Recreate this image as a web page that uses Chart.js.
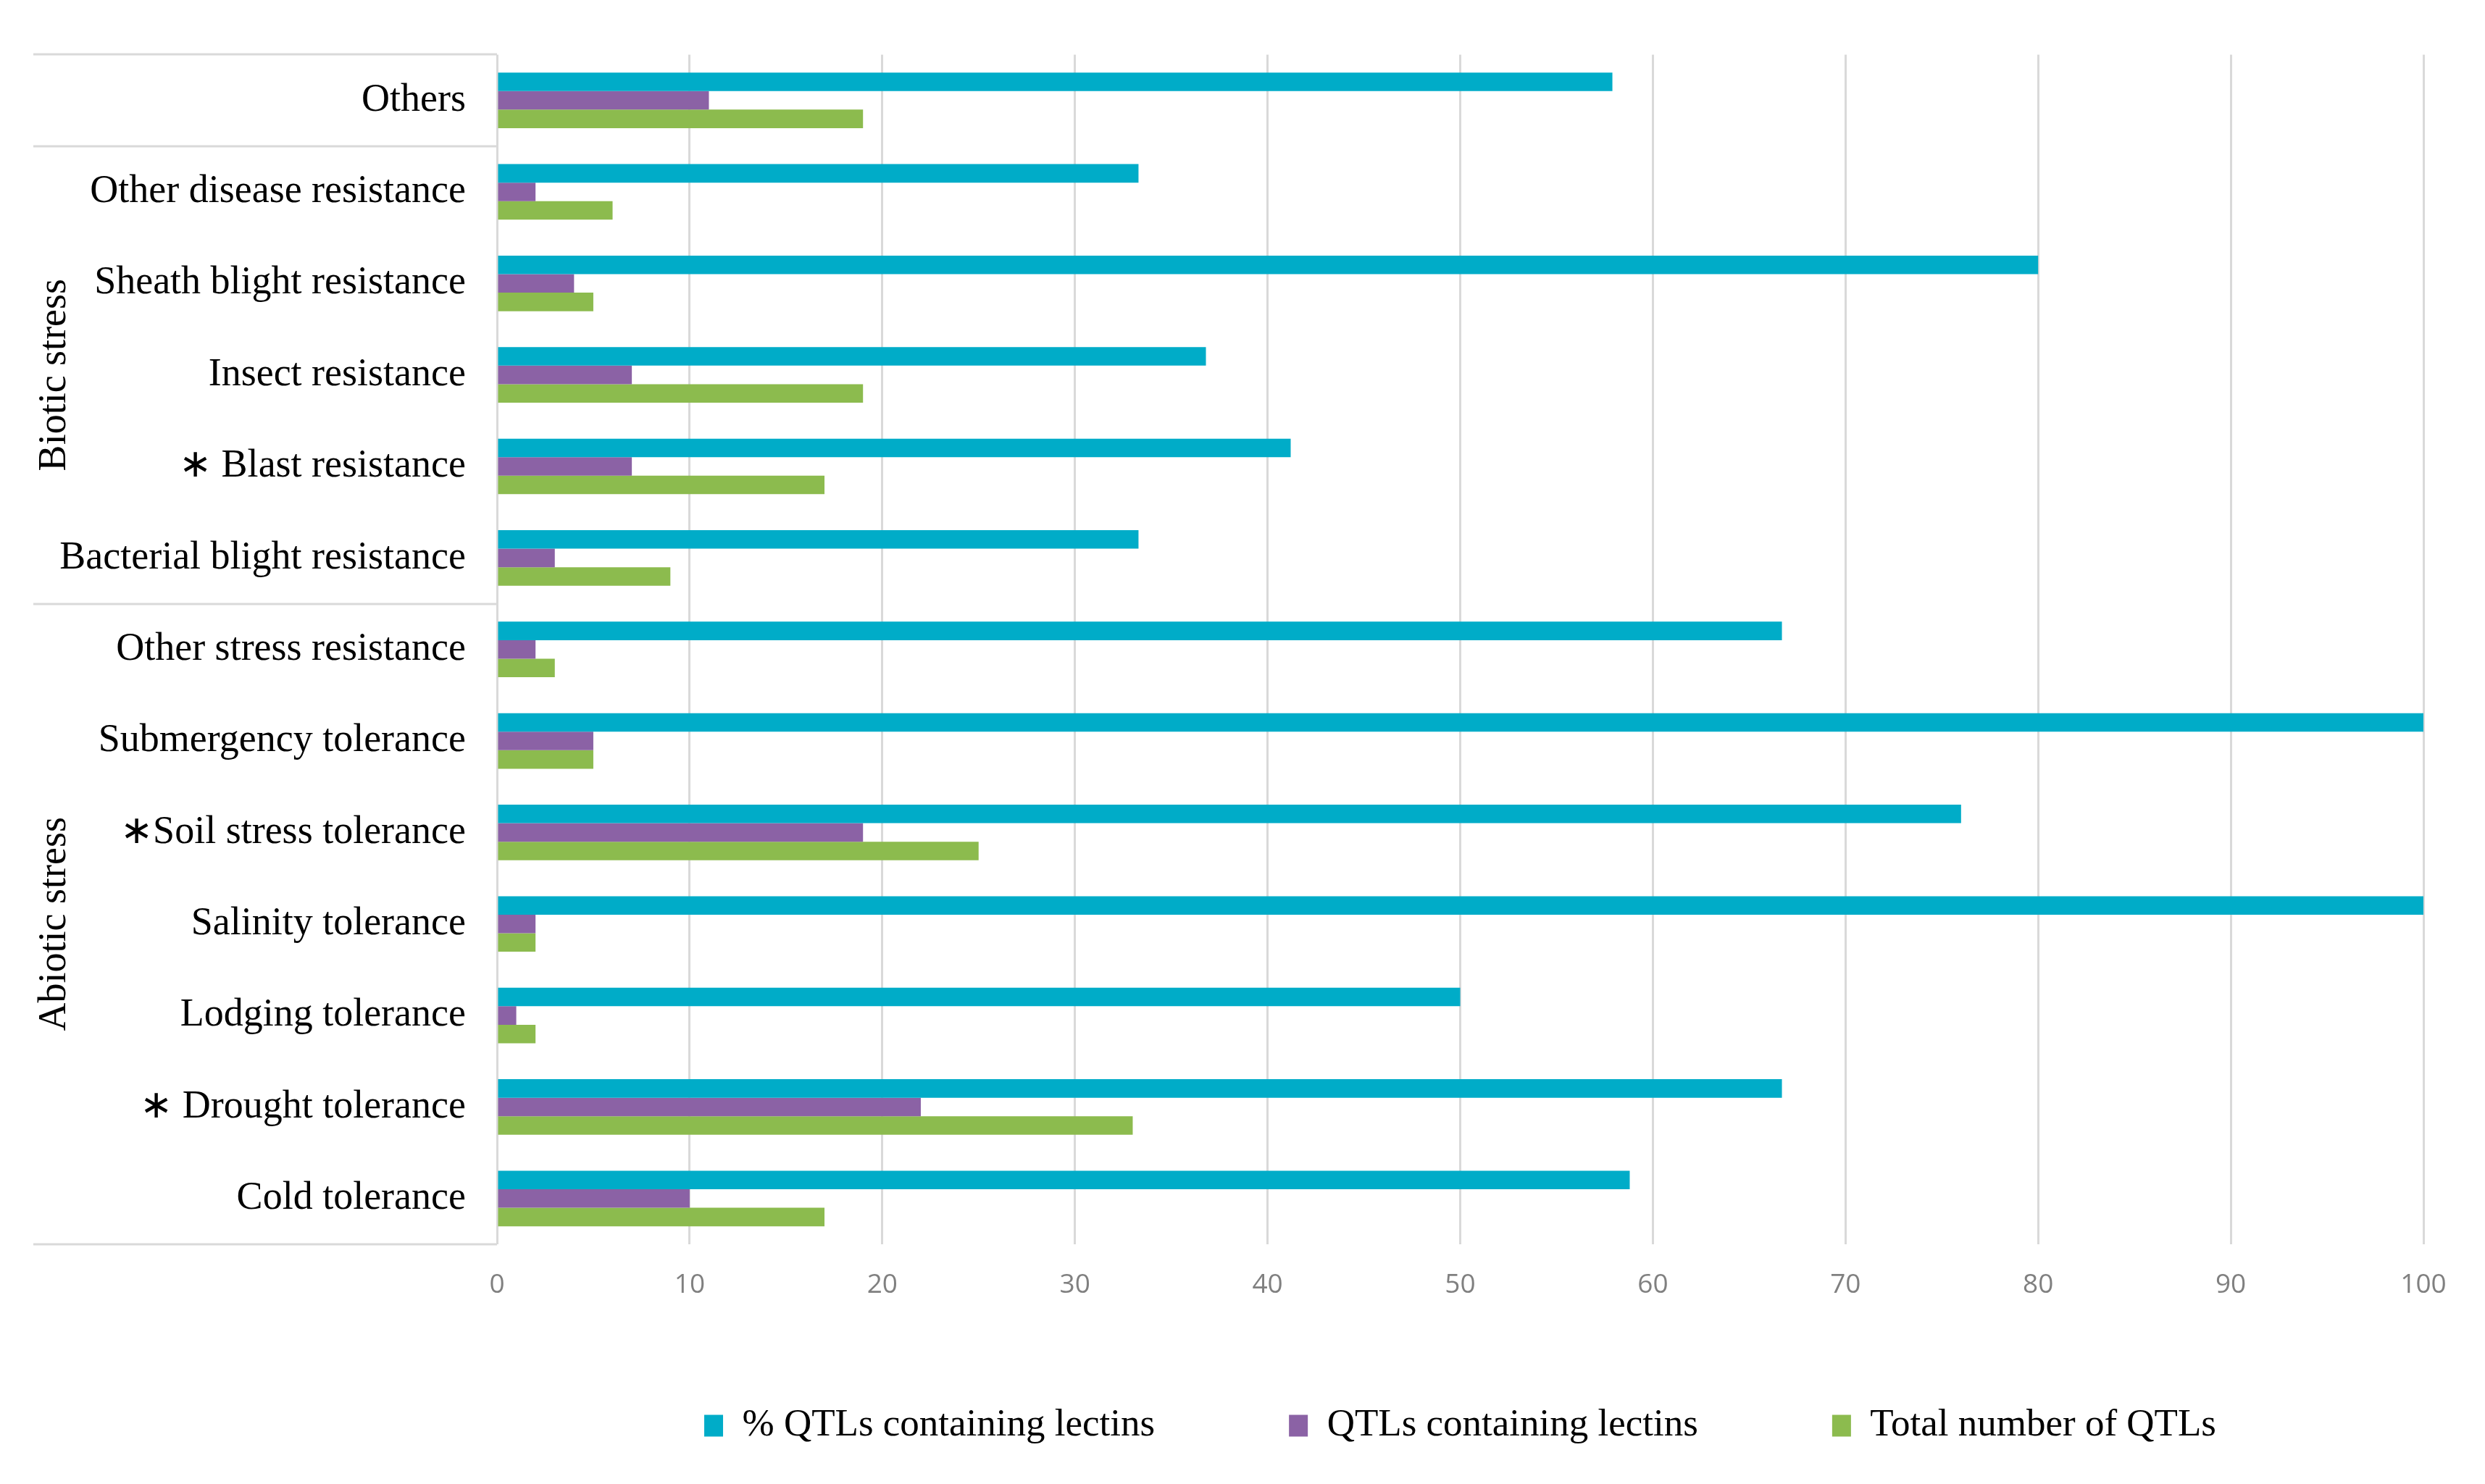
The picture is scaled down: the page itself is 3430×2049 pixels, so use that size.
<!DOCTYPE html>
<html lang="en">
<head>
  <meta charset="UTF-8">
  <title>QTLs containing lectins</title>
  <script src="https://cdn.jsdelivr.net/npm/chart.js"></script>
  <style>
    html, body { margin: 0; padding: 0; background: #fff; }
    #wrap { width: 3430px; height: 2049px; }
  </style>
</head>
<body>
  <div id="wrap">
    <canvas id="qtlChart" width="3430" height="2049"></canvas>
  </div>

  <script>
    // categories, top to bottom
    const categories = [
      'Others',
      'Other disease resistance',
      'Sheath blight resistance',
      'Insect resistance',
      '\u2217 Blast resistance',
      'Bacterial blight resistance',
      'Other stress resistance',
      'Submergency tolerance',
      '\u2217Soil stress tolerance',
      'Salinity tolerance',
      'Lodging tolerance',
      '\u2217 Drought tolerance',
      'Cold tolerance'
    ];

    const pctWithLectins   = [57.9, 33.3, 80, 36.8, 41.2, 33.3, 66.7, 100, 76, 100, 50, 66.7, 58.8];
    const qtlsWithLectins  = [11, 2, 4, 7, 7, 3, 2, 5, 19, 2, 1, 22, 10];
    const totalQtls        = [19, 6, 5, 19, 17, 9, 3, 5, 25, 2, 2, 33, 17];

    const seriesNames = ['% QTLs containing lectins', 'QTLs containing lectins', 'Total number of QTLs'];
    const seriesColors = ['#00acc8', '#8b62a5', '#8cbb4e'];

    const xTicks = [0, 10, 20, 30, 40, 50, 60, 70, 80, 90, 100];

    // category groups on the left
    const groupNames  = ['', 'Biotic stress', 'Abiotic stress'];
    const groupStarts = [0, 1, 6];
    const groupEnds   = [0, 5, 12];

    const serif = '"Liberation Serif", "Times New Roman", serif';

    const groupPlugin = {
      id: 'groupLabels',
      afterLayout(chart) {
        // x axis box is kept thin for the layout; widen it so its labels are not clipped
        const x = chart.scales.x;
        x.height = 90;
        x.bottom = x.top + 90;
      },
      afterDraw(chart) {
        const ctx = chart.ctx;
        const y = chart.scales.y;
        const left = 46;
        const right = chart.chartArea.left;
        ctx.save();
        ctx.strokeStyle = '#d9d9d9';
        ctx.lineWidth = 3;
        const edges = [groupStarts[0] - 0.5];
        groupEnds.forEach(e => edges.push(e + 0.5));
        edges.forEach(v => {
          const py = Math.round(y.getPixelForValue(v));
          ctx.beginPath();
          ctx.moveTo(left, py);
          ctx.lineTo(right, py);
          ctx.stroke();
        });

        ctx.fillStyle = '#000';
        ctx.font = '54px ' + serif;
        ctx.textAlign = 'center';
        ctx.textBaseline = 'middle';
        groupNames.forEach((name, i) => {
          if (!name) return;
          const top = y.getPixelForValue(groupStarts[i] - 0.5);
          const bot = y.getPixelForValue(groupEnds[i] + 0.5);
          ctx.save();
          ctx.translate(76, (top + bot) / 2);
          ctx.rotate(-Math.PI / 2);
          ctx.fillText(name, 0, 0);
          ctx.restore();
        });
        ctx.restore();
      }
    };

    const ctx = document.getElementById('qtlChart').getContext('2d');
    new Chart(ctx, {
      type: 'bar',
      data: {
        labels: categories,
        datasets: [
          { label: seriesNames[0], data: pctWithLectins,  backgroundColor: seriesColors[0] },
          { label: seriesNames[1], data: qtlsWithLectins, backgroundColor: seriesColors[1] },
          { label: seriesNames[2], data: totalQtls,       backgroundColor: seriesColors[2] }
        ]
      },
      options: {
        indexAxis: 'y',
        responsive: false,
        devicePixelRatio: 1,
        animation: false,
        categoryPercentage: 0.607,
        barPercentage: 1,
        layout: { padding: { top: 72, right: 85, bottom: 44, left: 0 } },
        scales: {
          x: {
            min: 0,
            max: 100,
            afterBuildTicks(scale) {
              scale.ticks = xTicks.map(v => ({ value: v }));
            },
            afterFit(scale) { scale.height = 39; },
            grid: { color: '#d9d9d9', lineWidth: 3, drawTicks: false },
            border: { display: false },
            ticks: {
              maxRotation: 0,
              autoSkip: false,
              padding: 34,
              color: '#808080',
              font: { family: '"Open Sans", "Liberation Sans", sans-serif', size: 37 }
            }
          },
          y: {
            afterFit(scale) { scale.width = 686; },
            grid: { display: false, drawTicks: false },
            border: { display: false },
            ticks: {
              padding: 43,
              color: '#000',
              autoSkip: false,
              font: { family: serif, size: 54 }
            }
          }
        },
        plugins: {
          tooltip: { enabled: false },
          legend: {
            position: 'bottom',
            fullSize: false,
            labels: {
              boxWidth: 26,
              boxHeight: 30,
              padding: 185,
              color: '#000',
              font: { family: serif, size: 53 }
            }
          }
        }
      },
      plugins: [groupPlugin]
    });
  </script>
</body>
</html>
